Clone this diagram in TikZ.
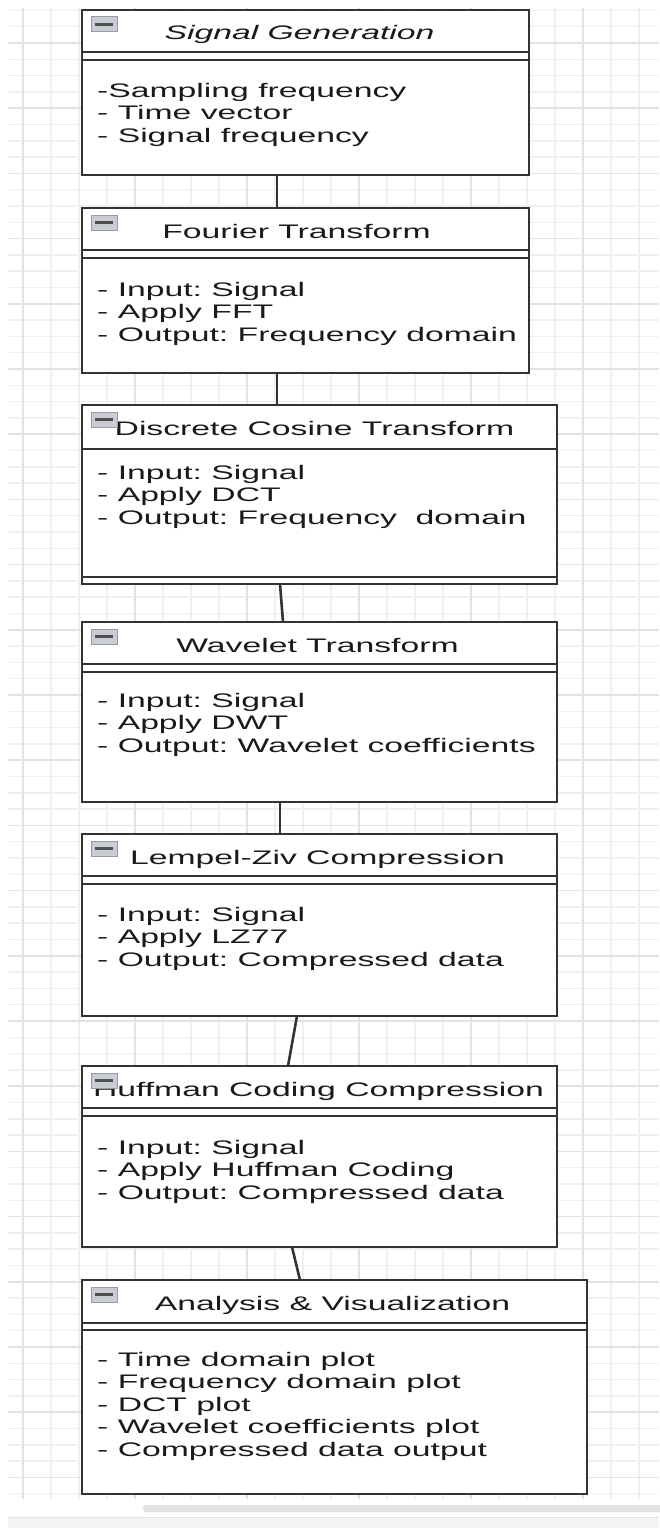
\documentclass[tikz,border=0pt]{standalone}
\usepackage{fontspec}
\setmainfont{Liberation Sans}[FakeStretch=1.72]
\frenchspacing
\newcommand\fs{\fontsize{19.6pt}{22.5pt}\selectfont\frenchspacing}
\definecolor{gridminor}{HTML}{F0F0F0}
\definecolor{gridmajor}{HTML}{E3E3E3}
\definecolor{edge}{HTML}{333333}
\definecolor{iconfill}{HTML}{C9CDD3}
\definecolor{iconedge}{HTML}{969CA5}
\definecolor{icondark}{HTML}{505050}
\definecolor{sbar}{HTML}{E2E2E2}
\definecolor{band}{HTML}{F1F3F5}
\definecolor{ink}{HTML}{1A1A1A}
\tikzset{
  hl/.style={draw=edge, line width=1.7pt},
  vl/.style={draw=edge, line width=2.8pt},
  umlbox/.style={rectangle, fill=white, draw=edge, line width=1.7pt, inner sep=0pt, outer sep=0pt, anchor=north west},
  ttl/.style={inner sep=0pt, anchor=base, font=\fs, text=ink},
  body/.style={inner sep=0pt, anchor=base west, font=\fs, text=ink},
  conn/.style={draw=edge, line width=2.6pt},
}
% name, x, ytop, width, height
\newcommand\mkbox[5]{%
  \node[umlbox, minimum width=#4pt, minimum height=#5pt] (#1) at (#2,#3) {};
  \draw[vl] (#1.north west) -- (#1.south west);
  \draw[vl] (#1.north east) -- (#1.south east);
}
% name, xshift, title
\newcommand\mktitle[3]{%
  \node[ttl] (#1t) at ([xshift=#2pt, yshift=-30pt]#1.north) {#3};
}
% name, y offset
\newcommand\sepline[2]{%
  \draw[hl] ([yshift=-#2pt]#1.north west) -- ([yshift=-#2pt]#1.north east);
}
\newcommand\mkicon[1]{%
  \draw[fill=iconfill, draw=iconedge, line width=1pt] ([xshift=9pt, yshift=-7pt]#1.north west) rectangle ++(26pt,-15pt);
  \fill[icondark] ([xshift=13pt, yshift=-13pt]#1.north west) rectangle ++(18pt,-3pt);
}
% name, first baseline offset, list
\newcommand\mkbody[3]{%
  \foreach \txt [count=\i] in {#3} {
    \node[body] (#1l\i) at ([xshift=15pt, yshift={-#2pt-(\i-1)*22.5pt}]#1.north west) {\txt};
  }
}
\begin{document}
\begin{tikzpicture}[x=1pt, y=-1pt]
\useasboundingbox (0,0) rectangle (659,1528);
\fill[white] (0,0) rectangle (659,1528);
% grid
\begin{scope}
  \clip (8,9) rectangle (659,1498);
  \foreach \i in {0,...,23} {
    \pgfmathsetmacro\xx{23+28*\i}
    \draw[gridminor, line width=2.4pt] (\xx,0) -- (\xx,1528);
  }
  \foreach \i in {0,...,91} {
    \pgfmathsetmacro\yy{10.4+16.3*\i}
    \draw[gridminor, line width=1.5pt] (0,\yy) -- (659,\yy);
  }
  \foreach \i in {0,4,...,20} {
    \pgfmathsetmacro\xx{23+28*\i}
    \draw[gridmajor, line width=2.4pt] (\xx,0) -- (\xx,1528);
  }
  \foreach \i in {2,6,...,90} {
    \pgfmathsetmacro\yy{10.4+16.3*\i}
    \draw[gridmajor, line width=1.5pt] (0,\yy) -- (659,\yy);
  }
\end{scope}
% bottom bar area
\fill[sbar, rounded corners=3pt] (143,1505) rectangle (668,1512);
\fill[band] (8,1517) rectangle (659,1528);
\draw[sbar, line width=0.8pt] (8,1517) -- (659,1517);

% boxes
\mkbox{b1}{82}{10}{447}{165}
\mkbox{b2}{82}{208}{447}{165}
\mkbox{b3}{82}{405}{475}{179}
\mkbox{b4}{82}{622}{475}{180}
\mkbox{b5}{82}{834}{475}{182}
\mkbox{b6}{82}{1066}{475}{181}
\mkbox{b7}{82}{1280}{505}{214}

\sepline{b1}{42}\sepline{b1}{50}
\sepline{b2}{42}\sepline{b2}{50}
\sepline{b3}{44}\sepline{b3}{172}
\sepline{b4}{42}\sepline{b4}{50}
\sepline{b5}{42}\sepline{b5}{50}
\sepline{b6}{42}\sepline{b6}{50}
\sepline{b7}{43}\sepline{b7}{50}

\node[ttl, font=\fs\itshape] (b1t) at ([xshift=-6pt, yshift=-30pt]b1.north) {Signal Generation};
\mktitle{b2}{-9}{Fourier Transform}
\mktitle{b3}{-5}{Discrete Cosine Transform}
\mktitle{b4}{-2}{Wavelet Transform}
\mktitle{b5}{-2}{Lempel-Ziv Compression}
\mktitle{b6}{-1}{Huffman Coding Compression}
\mktitle{b7}{-2}{Analysis \& Visualization}

\mkbody{b1}{87}{-Sampling frequency, - Time vector, - Signal frequency}
\mkbody{b2}{88}{- Input: Signal, - Apply FFT, - Output: Frequency domain}
\mkbody{b3}{74}{- Input: Signal, - Apply DCT, - Output: Frequency~ domain}
\mkbody{b4}{85}{- Input: Signal, - Apply DWT, - Output: Wavelet coefficients}
\mkbody{b5}{87}{- Input: Signal, - Apply LZ77, - Output: Compressed data}
\mkbody{b6}{88}{- Input: Signal, - Apply Huffman Coding, - Output: Compressed data}
\mkbody{b7}{86}{- Time domain plot, - Frequency domain plot, - DCT plot, - Wavelet coefficients plot, - Compressed data output}

\mkicon{b1}\mkicon{b2}\mkicon{b3}\mkicon{b4}\mkicon{b5}\mkicon{b6}\mkicon{b7}

% connectors
\draw[conn] ([xshift=-28.5pt]b1.south) -- ([xshift=-28.5pt]b2.north);
\draw[conn] ([xshift=-28.5pt]b2.south) -- ([xshift=-42.5pt]b3.north);
\draw[conn] ([xshift=-39.5pt]b3.south) -- ([xshift=-36.5pt]b4.north);
\draw[conn] ([xshift=-39.5pt]b4.south) -- ([xshift=-39.5pt]b5.north);
\draw[conn] ([xshift=-22.5pt]b5.south) -- ([xshift=-31.5pt]b6.north);
\draw[conn] ([xshift=-27.5pt]b6.south) -- ([xshift=-34.5pt]b7.north);
\end{tikzpicture}
\end{document}
